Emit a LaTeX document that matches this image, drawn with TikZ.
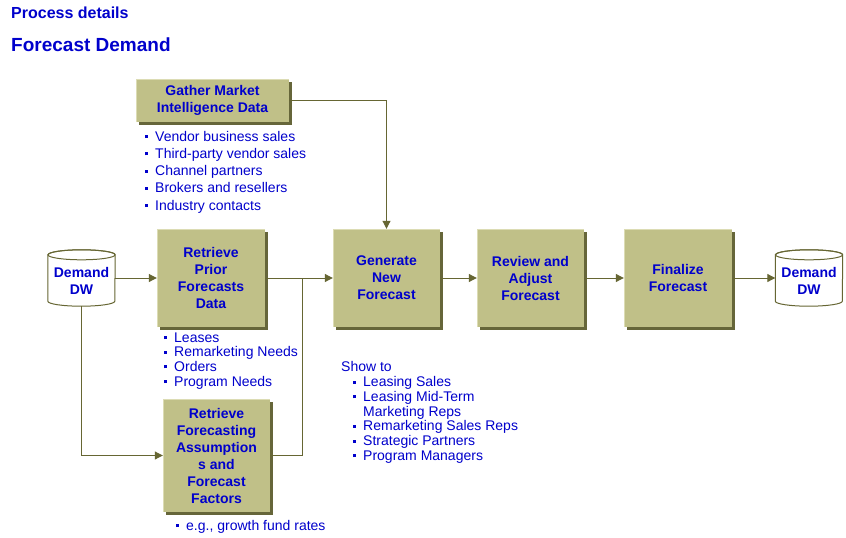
\documentclass[tikz,border=0pt]{standalone}
\usepackage{fontspec}
\setmainfont{Liberation Sans}
\usetikzlibrary{arrows.meta,shadows}
\definecolor{tblue}{HTML}{0000CC}
\definecolor{boxfill}{HTML}{C0C088}
\definecolor{boxshadow}{HTML}{66663A}
\definecolor{linec}{HTML}{666633}
\definecolor{boxlight}{HTML}{DCDCB4}
\newcommand{\bl}{\makebox[10pt][l]{\rule[3pt]{3pt}{3pt}}}
\begin{document}
\begin{tikzpicture}[x=1pt,y=-1pt,
  pbox/.style={fill=boxfill, draw=none, inner sep=0pt, align=center, text=tblue,
    font=\fontsize{14}{17}\selectfont\bfseries,
    drop shadow={shadow xshift=3pt, shadow yshift=-3pt, fill=boxshadow, opacity=1}},
  dbframe/.style={inner sep=0pt, minimum width=67pt, minimum height=56pt},
  dbtext/.style={inner sep=0pt, align=center, text=tblue, font=\fontsize{14}{17}\selectfont\bfseries},
  item/.style={anchor=base west, inner sep=0pt, text=tblue, font=\fontsize{14}{17}\selectfont},
  conn/.style={draw=linec, line width=1pt},
  arr/.style={conn, -{Triangle[length=8pt,width=8pt]}}
]
\fill[white] (0,0) rectangle (846,538);
\useasboundingbox (0,0) rectangle (846,538);

% titles
\node[anchor=base west, inner sep=0pt, text=tblue, font=\fontsize{16}{18}\selectfont\bfseries] (t1) at (11,18) {Process details};
\node[anchor=base west, inner sep=0pt, text=tblue, font=\fontsize{19}{22}\selectfont\bfseries] (t2) at (11,51) {Forecast Demand};

% process boxes
\node[pbox, minimum width=153pt, minimum height=43pt] (gather) at (212.5,100.5) {Gather Market\\Intelligence Data};
\node[pbox, minimum width=108pt, minimum height=98pt] (prior) at (211,278) {Retrieve\\Prior\\Forecasts\\Data};
\node[pbox, minimum width=107pt, minimum height=98pt] (gen) at (386.5,278) {Generate\\New\\Forecast};
\node[pbox, minimum width=107pt, minimum height=98pt] (review) at (530.5,278) {Review and\\Adjust\\Forecast};
\node[pbox, minimum width=108pt, minimum height=98pt] (final) at (678,278) {Finalize\\Forecast};
\node[pbox, minimum width=107pt, minimum height=113pt] (assum) at (216.5,455.5) {Retrieve\\Forecasting\\Assumption\\s and\\Forecast\\Factors};
\foreach \b in {gather,prior,gen,review,final,assum}
  \draw[boxlight, line width=1pt] ([xshift=0.5pt]\b.south west) -- ([xshift=0.5pt,yshift=-0.5pt]\b.north west) -- ([yshift=-0.5pt]\b.north east);

% databases
\node[dbframe] (dw1) at (81.5,278) {};
\node[dbframe] (dw2) at (809,278) {};
\foreach \d in {dw1,dw2}{
  \draw[linec, fill=white, line width=1pt] ([yshift=-5pt]\d.north west) -- ([yshift=5pt]\d.south west)
    arc[start angle=180, end angle=360, x radius=33.5pt, y radius=5pt]
    -- ([yshift=-5pt]\d.north east)
    arc[start angle=0, end angle=180, x radius=33.5pt, y radius=5pt] -- cycle;
  \draw[linec, line width=1pt] ([yshift=-5pt]\d.north) ellipse [x radius=33.5pt, y radius=5pt];
}
\node[dbtext] (dw1t) at (81.5,281) {Demand\\DW};
\node[dbtext] (dw2t) at (809,281) {Demand\\DW};

% connectors
\coordinate (j) at (302,455.5);
\draw[arr] (dw1.east) -- (prior.west);
\draw[arr] (prior.east) -- (gen.west);
\draw[conn] (assum.east) -- (j) -- (j |- gen.west);
\draw[arr] (dw1.south) |- (assum.west);
\draw[arr] (gather.east) -| (gen.north);
\draw[arr] (gen.east) -- (review.west);
\draw[arr] (review.east) -- (final.west);
\draw[arr] (final.east) -- (dw2.west);

% lists
\foreach \t [count=\i] in {Vendor business sales, Third-party vendor sales, Channel partners, Brokers and resellers, Industry contacts}
  \node[item] (ga\i) at (145,{141+17.25*(\i-1)}) {\bl\t};
\foreach \t [count=\i] in {Leases, Remarketing Needs, Orders, Program Needs}
  \node[item] (pr\i) at (164,{342+14.7*(\i-1)}) {\bl\t};
\node[item] (show) at (341,371.7) {Show to};
\node[item] (sh1) at (353,386.7) {\bl Leasing Sales};
\node[item] (sh2) at (353,401.4) {\bl Leasing Mid-Term};
\node[item] (sh3) at (363,416.1) {Marketing Reps};
\node[item] (sh4) at (353,430.8) {\bl Remarketing Sales Reps};
\node[item] (sh5) at (353,445.5) {\bl Strategic Partners};
\node[item] (sh6) at (353,460.2) {\bl Program Managers};
\node[item] (eg) at (176,530) {\bl e.g., growth fund rates};
\end{tikzpicture}
\end{document}
